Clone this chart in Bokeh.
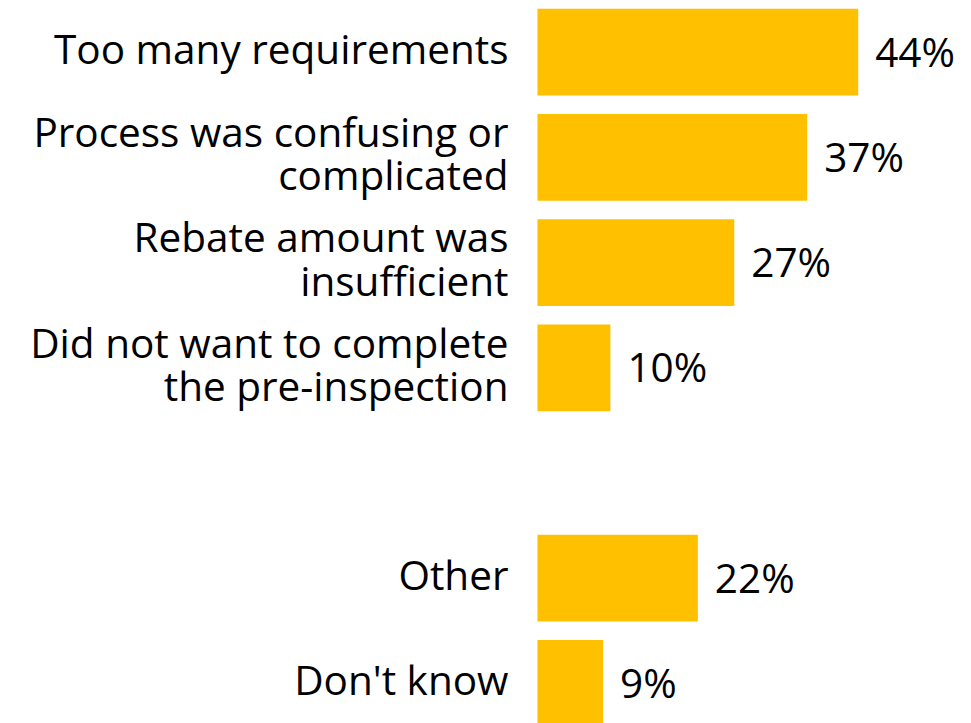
from bokeh.plotting import figure
from bokeh.models import ColumnDataSource, Range1d
from bokeh.core.properties import value
from bokeh.embed import file_html
from bokeh.resources import INLINE

categories = [
    "Too many requirements",
    "Process was confusing or\ncomplicated",
    "Rebate amount was\ninsufficient",
    "Did not want to complete\nthe pre-inspection",
    "Other",
    "Don't know",
]
values = [44, 37, 27, 10, 22, 9]
groups = ["reason", "reason", "reason", "reason", "other", "other"]
value_labels = [f"{v}%" for v in values]

# slot index per category, leaving one empty slot between groups
ys = []
slot = 0
prev = groups[0]
for g in groups:
    if g != prev:
        slot += 1
        prev = g
    ys.append(slot)
    slot += 1

src = ColumnDataSource(dict(y=ys, v=values, cat=categories, lab=value_labels))

p = figure(width=965, height=723, output_backend="svg", toolbar_location=None,
           x_range=Range1d(-73.67, 58.72), y_range=Range1d(6.381, -0.491),
           min_border=0, outline_line_color=None, background_fill_color="white",
           border_fill_color="white")
p.axis.visible = False
p.grid.visible = False

p.hbar(y="y", left=0, right="v", height=0.824, source=src,
       fill_color="#FFC000", line_color=None)

FONT = value("Open Sans")
p.text(x=0, y="y", text="cat", source=src, x_offset=-29, y_offset=-4,
       text_align="right", text_baseline="middle", text_font=FONT,
       text_font_size="40.5px", text_line_height=0.785, text_color="#000000")
p.text(x="v", y="y", text="lab", source=src, x_offset=17, y_offset=-1,
       text_align="left", text_baseline="middle", text_font=FONT,
       text_font_size="40.5px", text_color="#000000")

open("out.html", "w").write(file_html(p, INLINE))
